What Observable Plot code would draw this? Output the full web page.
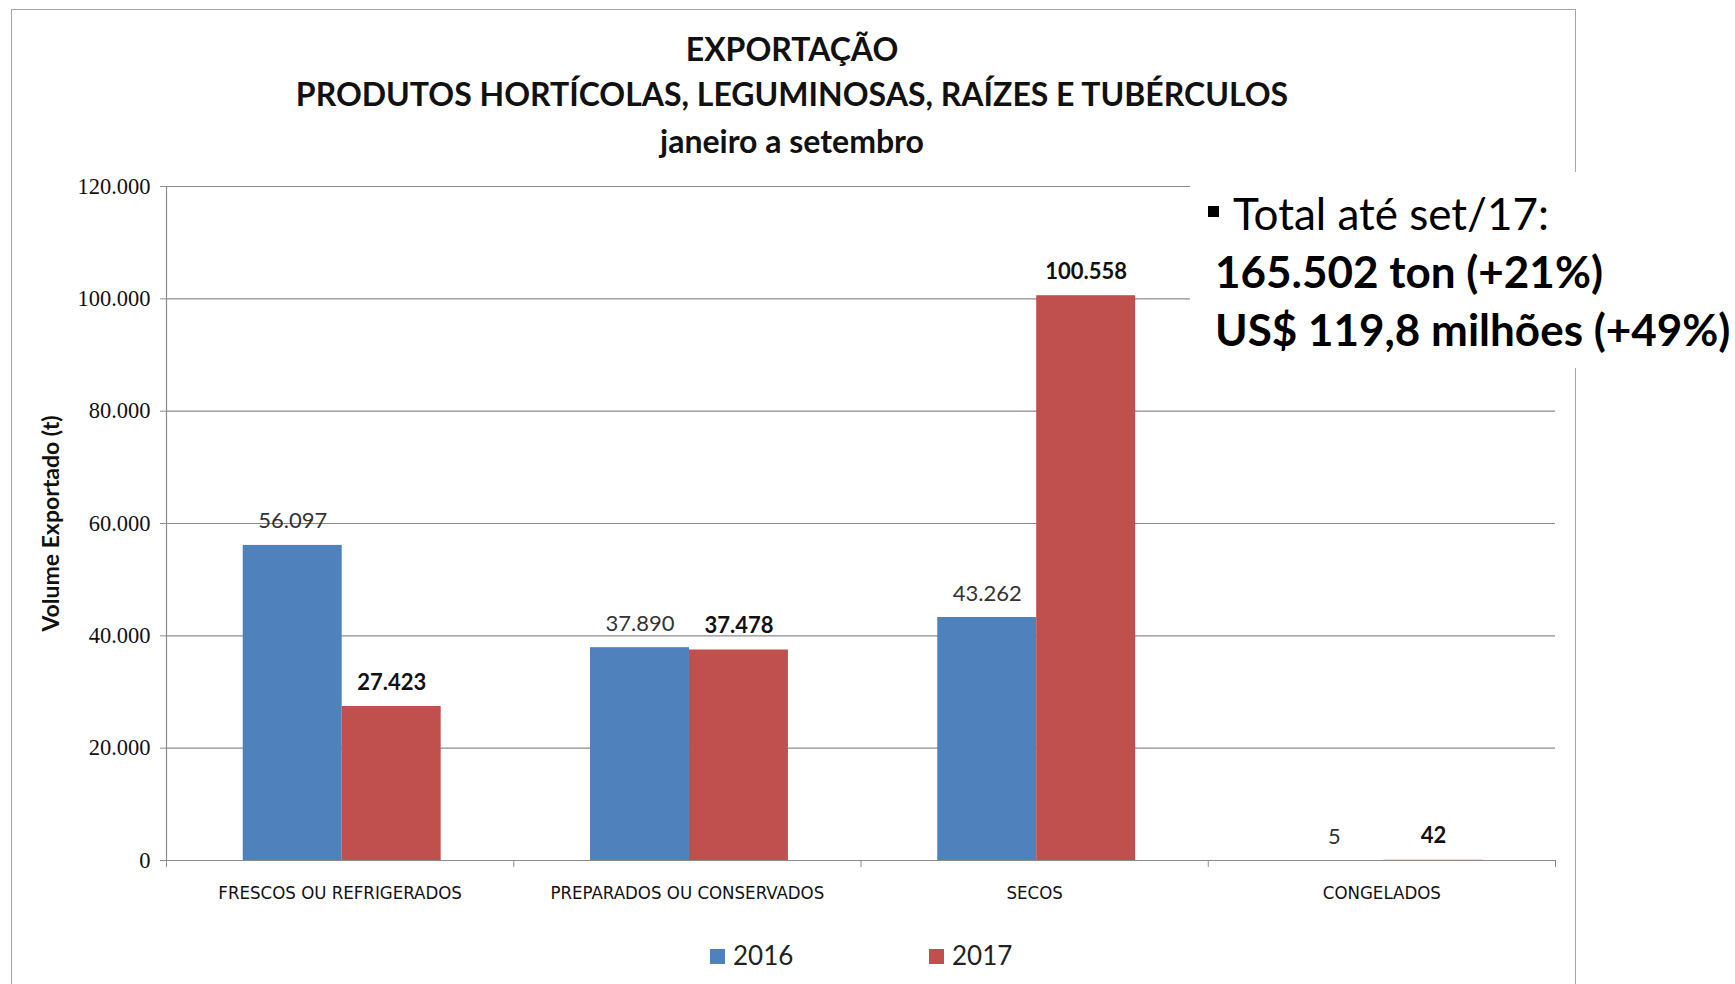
<!DOCTYPE html>
<html>
<head>
<meta charset="utf-8">
<script src="https://cdn.jsdelivr.net/npm/d3@7"></script>
<script src="https://cdn.jsdelivr.net/npm/@observablehq/plot@0.6"></script>
<style>
  html, body { margin: 0; padding: 0; background: #fff; }
  #page { position: relative; width: 1735px; height: 984px; overflow: hidden; background: #fff; font-family: Lato, "Open Sans", sans-serif; }
  #frame { position: absolute; left: 11px; top: 9px; width: 1565px; height: 1000px; border: 1.5px solid #a6a6a6; box-sizing: border-box; }
  .title { position: absolute; left: 0; width: 1584px; text-align: center; font-weight: 700; font-size: 32px; color: #111; line-height: 46px; }
  #chart { position: absolute; left: 0; top: 160px; }
  #legend { position: absolute; top: 937px; left: 0; height: 36px; font-size: 26px; color: #222; }
  .li { position: absolute; top: 0; white-space: nowrap; line-height: 36px; }
  .sw { display: inline-block; width: 15px; height: 15px; margin-right: 8px; vertical-align: 1px; }
  #note { position: absolute; left: 1190px; top: 172px; width: 545px; height: 196px; background: #fff; }
  #noteText { position: absolute; left: 1204px; top: 184px; font-size: 44px; line-height: 58px; color: #000; white-space: nowrap; }
  #noteText .b { font-weight: 700; padding-left: 11px; }
  .bullet { display: inline-block; width: 11px; height: 11px; background: #000; margin-right: 14px; vertical-align: 13px; margin-left: 4px; }
</style>
</head>
<body>
<div id="page">
  <div id="frame"></div>
  <div class="title" style="top:26px">EXPORTAÇÃO</div>
  <div class="title" style="top:71px">PRODUTOS HORTÍCOLAS, LEGUMINOSAS, RAÍZES E TUBÉRCULOS</div>
  <div class="title" style="top:118px">janeiro a setembro</div>
  <div id="chart"></div>
  <div id="note"></div>
  <div id="noteText">
    <div><span class="bullet"></span>Total até set/17:</div>
    <div class="b">165.502 ton (+21%)</div>
    <div class="b">US$ 119,8 milhões (+49%)</div>
  </div>
  <div id="legend"></div>
</div>
<script>
// ---- data ----
const categories = ["FRESCOS OU REFRIGERADOS", "PREPARADOS OU CONSERVADOS", "SECOS", "CONGELADOS"];
const years = ["2016", "2017"];
const values2016 = [56097, 37890, 43262, 5];
const values2017 = [27423, 37478, 100558, 42];
const yTicks = [0, 20000, 40000, 60000, 80000, 100000, 120000];
const colors = {"2016": "#4F81BD", "2017": "#C0504D"};

// ---- derived table ----
const barW = 0.285;
const groupShift = 0.006;
const rows = [];
categories.forEach((c, i) => {
  rows.push({cat: c, i, year: "2016", value: values2016[i]});
  rows.push({cat: c, i, year: "2017", value: values2017[i]});
});
rows.forEach(r => {
  const mid = r.i + 0.5 + groupShift;
  r.x1 = r.year === "2016" ? mid - barW : mid;
  r.x2 = r.year === "2016" ? mid : mid + barW;
  r.xc = (r.x1 + r.x2) / 2;
});

const loc = d3.formatLocale({decimal: ",", thousands: ".", grouping: [3], currency: ["", ""]});
const fmt = loc.format(",d");

const chart = Plot.plot({
  width: 1600,
  height: 760,
  marginLeft: 166,
  marginRight: 45,
  marginTop: 26,
  marginBottom: 60,
  x: {type: "linear", domain: [0, 4], axis: null},
  y: {domain: [0, 120000], axis: null},
  marks: [
    Plot.gridY(yTicks, {stroke: "#8c8c8c", strokeOpacity: 1, strokeWidth: 1.2}),
    Plot.axisY(yTicks, {tickFormat: fmt, tickSize: 6, tickPadding: 10, stroke: "#8c8c8c", fontSize: 22.5, fontFamily: "'Liberation Serif', 'DejaVu Serif', serif", fill: "#111", label: null}),
    Plot.ruleX([0], {stroke: "#8c8c8c", strokeWidth: 1.2}),
    Plot.axisX(d3.range(categories.length + 1), {tickSize: 7, tickFormat: () => "", stroke: "#8c8c8c", label: null}),
    Plot.rectY(rows, {x1: "x1", x2: "x2", y: "value", fill: d => colors[d.year]}),
    Plot.ruleY([0], {stroke: "#8c8c8c", strokeWidth: 1.2}),
    Plot.text(rows.filter(d => d.year === "2016"), {x: "xc", y: "value", text: d => fmt(d.value), dy: -24, fontSize: 22, fill: "#333", fontFamily: "Lato, sans-serif"}),
    Plot.text(rows.filter(d => d.year === "2017"), {x: "xc", y: "value", text: d => fmt(d.value), dy: -24, fontSize: 22, fontWeight: 700, fill: "#111", fontFamily: "Lato, sans-serif"}),
    Plot.text(categories, {x: (d, i) => i + 0.5, frameAnchor: "bottom", dy: 38, fontSize: 18.5, fill: "#111", fontFamily: "'Liberation Sans Narrow', 'DejaVu Sans Condensed', 'Liberation Sans', sans-serif", fontStretch: "condensed"}),
    Plot.text(["Volume Exportado (t)"], {frameAnchor: "left", textAnchor: "middle", rotate: -90, dx: -115, fontSize: 23, fontWeight: 700, fill: "#111", fontFamily: "Lato, sans-serif"})
  ]
});
document.getElementById("chart").appendChild(chart);

// legend
const legend = document.getElementById("legend");
const legendX = {"2016": 710, "2017": 929};
years.forEach(y => {
  const el = document.createElement("div");
  el.className = "li";
  el.style.left = legendX[y] + "px";
  el.innerHTML = `<span class="sw" style="background:${colors[y]}"></span>${y}`;
  legend.appendChild(el);
});
</script>
</body>
</html>
